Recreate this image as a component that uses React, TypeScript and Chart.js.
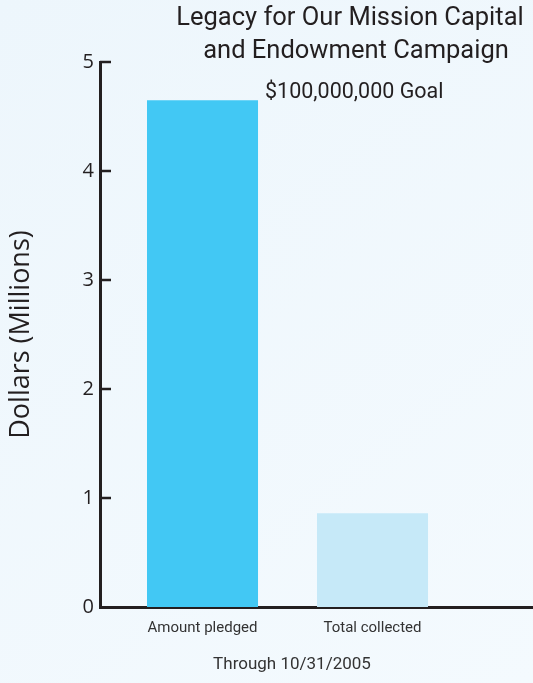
import React, { useEffect, useRef } from "react";
import { Chart, registerables } from "chart.js";

Chart.register(...registerables);

const CATEGORIES = ["Amount pledged", "Total collected"];
const VALUES = [4.65, 0.86];
const BAR_COLORS = ["#42c8f4", "#c6e9f8"];
const Y_TICKS = [0, 1, 2, 3, 4, 5];
const TITLE_LINES = ["Legacy for Our Mission Capital", "and Endowment Campaign"];
const GOAL_TEXT = "$100,000,000 Goal";
const X_TITLE = "Through 10/31/2005";
const Y_TITLE = "Dollars (Millions)";

const W = 533;
const H = 683;
const INK = "#231f20";
const NARROW = "'Roboto', sans-serif";
const SANS = "'Open Sans', 'Noto Sans', sans-serif";

const decor = {
  id: "decor",
  beforeDraw(chart: any) {
    const ctx = chart.ctx;
    ctx.save();
    const g = ctx.createLinearGradient(0, 0, W, H);
    g.addColorStop(0, "#edf6fc");
    g.addColorStop(1, "#f4fafe");
    ctx.fillStyle = g;
    ctx.fillRect(0, 0, W, H);
    ctx.restore();
  },
  afterDraw(chart: any) {
    const ctx = chart.ctx;
    const y = chart.scales.y;
    const area = chart.chartArea;
    ctx.save();
    ctx.strokeStyle = INK;
    ctx.lineWidth = 2.5;
    y.ticks.forEach((t: any) => {
      if (t.value === 0) return;
      const py = y.getPixelForValue(t.value);
      ctx.beginPath();
      ctx.moveTo(area.left, py);
      ctx.lineTo(area.left + 11, py);
      ctx.stroke();
    });
    ctx.fillStyle = INK;
    ctx.textAlign = "center";
    ctx.textBaseline = "middle";
    ctx.font = `25.5px ${NARROW}`;
    ctx.fillText(TITLE_LINES[0], 350, 19);
    ctx.fillText(TITLE_LINES[1], 356, 52);
    ctx.font = `21.5px ${NARROW}`;
    ctx.textAlign = "left";
    ctx.fillText(GOAL_TEXT, 265, 93);
    ctx.textAlign = "center";
    ctx.font = `17px ${NARROW}`;
    ctx.fillStyle = "#333333";
    ctx.fillText(X_TITLE, 292, 665);
    ctx.restore();
  },
};

export default function App() {
  const ref = useRef<HTMLCanvasElement | null>(null);
  useEffect(() => {
    document.body.style.margin = "0";
    const canvas = ref.current;
    if (!canvas) return;
    const chart = new Chart(canvas, {
      type: "bar",
      data: {
        datasets: [
          {
            data: CATEGORIES.map((_, i) => ({ x: i + 1, y: VALUES[i] })),
            backgroundColor: BAR_COLORS,
            borderWidth: 0,
            barPercentage: 0.653,
            categoryPercentage: 1,
          },
        ],
      },
      options: {
        responsive: false,
        animation: false,
        layout: { padding: { top: 62, right: 0, left: 0, bottom: 0 } },
        plugins: { legend: { display: false }, tooltip: { enabled: false }, title: { display: false } },
        scales: {
          x: {
            type: "linear",
            offset: false,
            min: 0.397,
            max: 2.944,
            afterBuildTicks: (s: any) => {
              s.ticks = CATEGORIES.map((_, i) => ({ value: i + 1 }));
            },
            afterFit: (s: any) => {
              s.height = H - 607;
            },
            grid: { display: false, drawTicks: false },
            border: { display: true, color: INK, width: 3 },
            ticks: {
              autoSkip: false,
              maxRotation: 0,
              padding: 12,
              color: "#333333",
              font: { family: NARROW, size: 15 },
              callback: (v: any) => CATEGORIES[Math.round(v) - 1] ?? "",
            },
          },
          y: {
            min: 0,
            max: 5,
            afterBuildTicks: (s: any) => {
              s.ticks = Y_TICKS.map((v) => ({ value: v }));
            },
            afterFit: (s: any) => {
              s.width = 100;
            },
            grid: { display: false, drawTicks: false },
            border: { display: true, color: INK, width: 3 },
            ticks: {
              padding: 6,
              color: INK,
              font: { family: SANS, size: 20 },
            },
            title: {
              display: true,
              text: Y_TITLE,
              color: INK,
              padding: { top: 5, bottom: 0 },
              font: { family: SANS, size: 27 },
            },
          },
        },
      },
      plugins: [decor],
    });
    return () => chart.destroy();
  }, []);
  return (
    <div style={{ position: "fixed", left: 0, top: 0, width: W, height: H }}>
      <canvas ref={ref} width={W} height={H} style={{ display: "block" }} />
    </div>
  );
}
